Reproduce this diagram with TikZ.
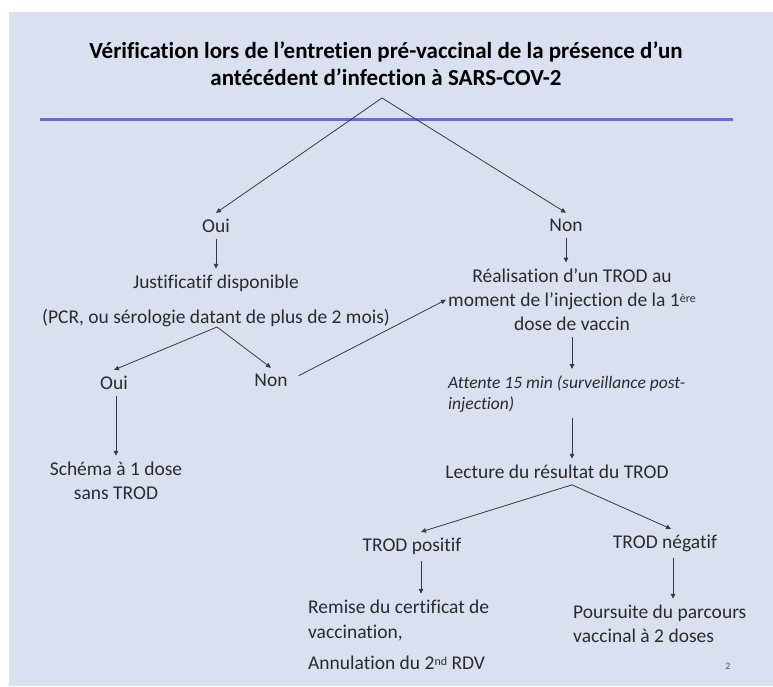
\documentclass[tikz,border=0pt]{standalone}
\usepackage{fontspec}
\setmainfont{Carlito}[Ligatures={NoCommon}]
\usetikzlibrary{arrows.meta}
\definecolor{bg}{HTML}{D9E0EF}
\definecolor{rulec}{HTML}{6C6CCF}
\definecolor{ink}{HTML}{2B2B2B}
\definecolor{lnc}{HTML}{3A3A3A}
\begin{document}
\begin{tikzpicture}[x=1pt,y=-1pt,
  txt/.style={inner xsep=2pt, inner ysep=6pt, text=ink, font=\fontsize{19.5}{24}\selectfont, anchor=base},
  ttl/.style={inner sep=0pt, text=black, font=\fontsize{23}{27}\selectfont\bfseries, align=center, anchor=base},
  itx/.style={inner xsep=0pt, inner ysep=6pt, text=ink, font=\fontsize{17.5}{21}\selectfont\itshape, align=left, anchor=base west},
  arr/.style={draw=lnc, line width=0.8pt, -{Triangle[length=5pt,width=4.5pt]}}]
\useasboundingbox (0,0) rectangle (773,686);
\fill[bg] (9,12) rectangle (773,686);
\draw[rulec, line width=3pt] (40,119) -- (733,119);

\node[ttl] (title) at (386,85) {Vérification lors de l’entretien pré-vaccinal de la présence d’un\\antécédent d’infection à SARS-COV-2};
\coordinate (apex) at (382,98);

\node[txt] (oui) at (216,232.5) {Oui};
\node[txt] (non) at (566,231.5) {Non};
\node[txt] (just) at (216,288.5) {Justificatif disponible};
\node[txt] (pcr) at (216,323.5) {(PCR, ou sérologie datant de plus de 2 mois)};
\coordinate (apex2) at (217,327);
\node[txt] (oui2) at (114,389.5) {Oui};
\node[txt] (non2) at (271,386.5) {Non};
\node[txt, align=center] (schema) at (116,499.5) {Schéma à 1 dose\\sans TROD};

\node[txt, align=center] (real) at (572,330.5) {Réalisation d’un TROD au\\moment de l’injection de la 1{\raisebox{4.5pt}{\fontsize{12}{12}\selectfont ère}}\\dose de vaccin};
\node[itx] (att) at (448,409) {Attente 15 min (surveillance post-\\injection)};
\node[txt] (lect) at (557,478.5) {Lecture du résultat du TROD};
\node[txt] (pos) at (412,551.5) {TROD positif};
\node[txt] (neg) at (665,548.5) {TROD négatif};
\node[txt, align=left, anchor=base west, font=\fontsize{19.5}{25}\selectfont] (rem) at (306,669.5) {Remise du certificat de\\vaccination,\\[6pt]Annulation du 2{\raisebox{4.5pt}{\fontsize{12}{12}\selectfont nd}} RDV};
\node[txt, align=left, anchor=base west] (pour) at (571,642.5) {Poursuite du parcours\\vaccinal à 2 doses};
\node[inner sep=0pt, text=ink!80, font=\fontsize{10}{12}\selectfont, anchor=base] (pg) at (728,669) {2};

\draw[arr] (apex) -- (oui.north);
\draw[arr] (apex) -- (non.north);
\draw[arr] (oui.south) -- (just.north);
\draw[arr] (apex2) -- (oui2.north);
\draw[arr] (apex2) -- (non2.north);
\draw[arr] (oui2.south -| schema.north) -- (schema.north);
\draw[arr, shorten <=10pt] (non2.east) -- (real.west);
\draw[arr] (non.south) -- (non.south |- real.north);
\draw[arr] (real.south) -- (real.south |- att.north);
\draw[arr] (real.south |- att.south) -- (real.south |- lect.north);
\coordinate (apex3) at (real.south |- lect.south);
\draw[arr] (apex3) -- ([xshift=9pt]pos.north);
\draw[arr] (apex3) -- ([xshift=6pt]neg.north);
\draw[arr] ([xshift=9pt]pos.south) -- ([xshift=9pt]pos.south |- rem.north);
\draw[arr] ([xshift=8pt]neg.south) -- ([xshift=8pt]neg.south |- pour.north);
\end{tikzpicture}
\end{document}
